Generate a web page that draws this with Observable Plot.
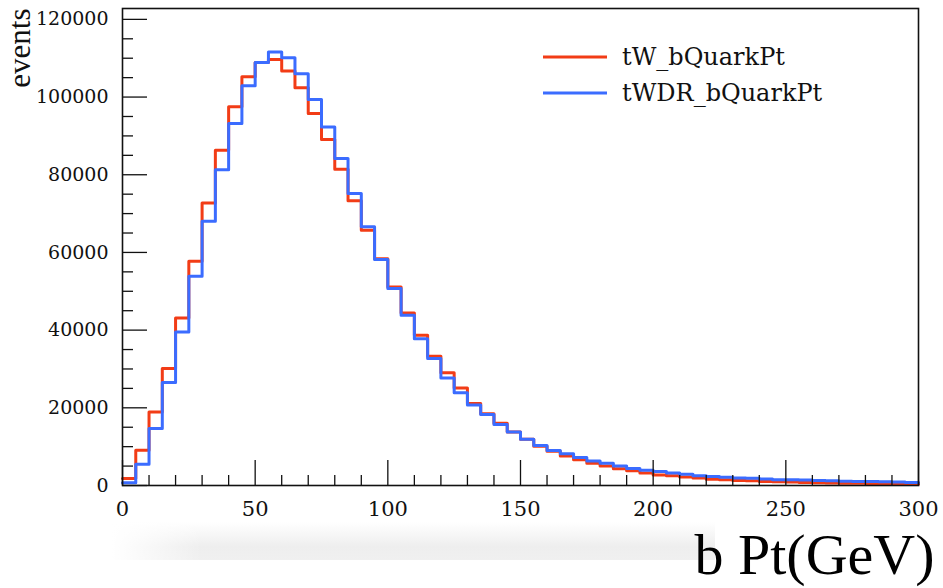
<!DOCTYPE html>
<html>
<head>
<meta charset="utf-8">
<script src="https://cdn.jsdelivr.net/npm/d3@7"></script>
<script src="https://cdn.jsdelivr.net/npm/@observablehq/plot@0.6"></script>
<style>
  html, body { margin: 0; padding: 0; background: #fff; }
  #wrap { position: relative; width: 943px; height: 588px; overflow: hidden; }
  #shadow {
    position: absolute; left: 112px; top: 522px; width: 603px; height: 38px; z-index: 0;
    background: linear-gradient(to right, #fff 0px, rgba(255,255,255,0) 90px),
                linear-gradient(to bottom, #fff 0%, #eeeeee 65%, #f0f0f0 100%);
  }
  #chart { position: absolute; left: 0; top: 0; z-index: 1; }
  #chart svg { background: transparent; }
  #legend { position: absolute; left: 0; top: 0; z-index: 2; }
</style>
</head>
<body>
<div id="wrap">
  <div id="shadow"></div>
  <div id="chart"></div>
  <svg id="legend" width="943" height="588"></svg>
</div>
<script>
// ---- data (bin low edges in GeV, bin width 5) ----
const binLow = [0,5,10,15,20,25,30,35,40,45,50,55,60,65,70,75,80,85,90,95,
  100,105,110,115,120,125,130,135,140,145,150,155,160,165,170,175,180,185,190,195,
  200,205,210,215,220,225,230,235,240,245,250,255,260,265,270,275,280,285,290,295];
const xMax = 300;

const seriesNames = ["tW_bQuarkPt", "tWDR_bQuarkPt"];
const seriesColors = ["#f23c16", "#3b6cff"];

const tW = [1800,9100,18900,30100,43100,57700,72700,86300,97500,105200,
  108900,109700,106700,102400,95800,89100,81400,73300,65700,58400,
  51100,44400,38700,33300,29000,25100,21100,18500,16000,13800,
  11900,10100,8800,7600,6600,5700,5000,4300,3800,3200,
  2700,2500,2200,1900,1600,1450,1300,1200,1050,950,
  900,800,700,650,600,550,500,450,400,350];

const tWDR = [700,5500,14700,26500,39500,53900,68000,81300,93200,102900,
  108900,111600,110100,106000,99400,92300,84200,75200,66600,58200,
  50700,43800,37800,32700,27700,23900,20700,18300,15700,13800,
  11900,10300,9000,8200,7200,6300,5700,5000,4400,3900,
  3600,3200,2900,2500,2300,2100,1900,1850,1700,1500,
  1500,1400,1300,1200,1100,1050,1000,950,900,800];

const yMajor = [0,20000,40000,60000,80000,100000,120000];
const yMinor = [5000,10000,15000,25000,30000,35000,45000,50000,55000,65000,70000,75000,
  85000,90000,95000,105000,110000,115000];
const xMajor = [0,50,100,150,200,250,300];
const xMinor = [10,20,30,40,60,70,80,90,110,120,130,140,160,170,180,190,210,220,230,240,260,270,280,290];

const xLabel = "b Pt(GeV)";
const yLabel = "events";

// ---- build step data ----
function steps(vals, name) {
  const pts = binLow.map((x, i) => ({x, y: vals[i], s: name}));
  pts.push({x: xMax, y: vals[vals.length - 1], s: name});
  return pts;
}
const redPts = steps(tW, seriesNames[0]);
const bluePts = steps(tWDR, seriesNames[1]);

const W = 943, H = 588;
const mL = 122, mR = 25, mT = 8, mB = 103;
const pw = W - mL - mR, ph = H - mT - mB;

const serif = "'DejaVu Serif', serif";
const times = "'Liberation Serif', 'Times New Roman', serif";

const plot = Plot.plot({
  width: W, height: H,
  marginLeft: mL, marginRight: mR, marginTop: mT, marginBottom: mB,
  x: {domain: [0, xMax], axis: null},
  y: {domain: [0, 122800], axis: null},
  style: {background: "transparent", overflow: "visible"},
  marks: [
    Plot.line(redPts, {x: "x", y: "y", curve: "step-after", stroke: seriesColors[0], strokeWidth: 3}),
    Plot.line(bluePts, {x: "x", y: "y", curve: "step-after", stroke: seriesColors[1], strokeWidth: 3}),
    Plot.tickY(yMajor, {y: d => d, insetRight: pw - 25, stroke: "#111", strokeWidth: 1.3}),
    Plot.tickY(yMinor, {y: d => d, insetRight: pw - 11, stroke: "#111", strokeWidth: 1.3}),
    Plot.tickX(xMajor, {x: d => d, insetTop: ph - 25, stroke: "#111", strokeWidth: 1.3}),
    Plot.tickX(xMinor, {x: d => d, insetTop: ph - 10, stroke: "#111", strokeWidth: 1.3}),
    Plot.frame({stroke: "#111", strokeWidth: 1.6}),
    Plot.text(yMajor, {x: 0, y: d => d, text: d => String(d), textAnchor: "end", dx: -14,
      lineAnchor: "middle", fontSize: 19, fontFamily: serif, fill: "#111"}),
    Plot.text(xMajor, {x: d => d, y: 0, text: d => String(d), textAnchor: "middle", dy: 24,
      lineAnchor: "middle", fontSize: 21, fontFamily: serif, fill: "#111"}),
    Plot.text([xLabel], {frameAnchor: "bottom-right", text: d => d, textAnchor: "end",
      lineAnchor: "bottom", dx: 16, dy: 88, fontSize: 58, fontFamily: times, fill: "#000"}),
    Plot.text([yLabel], {frameAnchor: "top-left", text: d => d, textAnchor: "end",
      lineAnchor: "bottom", rotate: -90, dx: -93, dy: 0, fontSize: 31, fontFamily: times, fill: "#111"})
  ]
});
document.getElementById("chart").appendChild(plot);

// ---- legend ----
const leg = d3.select("#legend");
const legY = [57, 93];
seriesNames.forEach((name, i) => {
  leg.append("line").attr("x1", 543).attr("x2", 607).attr("y1", legY[i]).attr("y2", legY[i])
    .attr("stroke", seriesColors[i]).attr("stroke-width", 3);
  leg.append("text").attr("x", 622).attr("y", legY[i] + 8)
    .attr("font-family", "DejaVu Serif, serif").attr("font-size", 24).attr("fill", "#111")
    .text(name);
});
</script>
</body>
</html>
